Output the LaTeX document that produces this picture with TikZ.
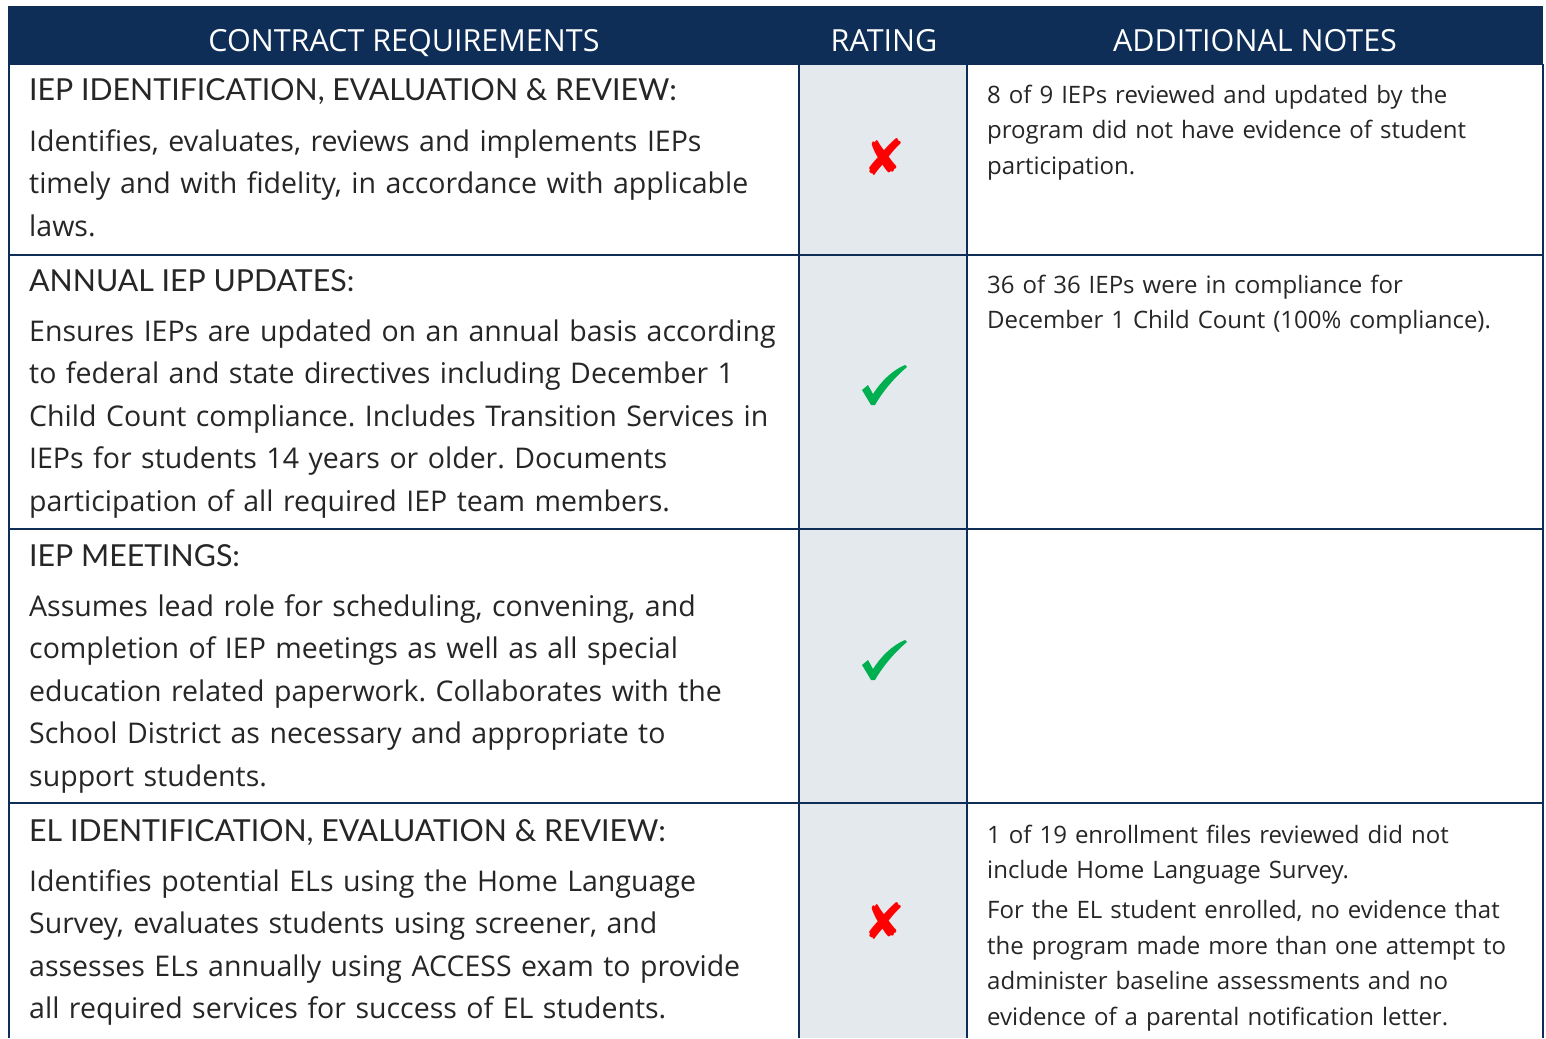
\documentclass[tikz,border=0pt]{standalone}
\usepackage{fontspec}
\setmainfont{Open Sans}
\newfontfamily\headfont{Lato}
\newfontfamily\symfont{DejaVu Sans}
\definecolor{navy}{HTML}{0E2E58}
\definecolor{ratebg}{HTML}{E4E9EE}
\definecolor{txt}{HTML}{262626}
\definecolor{okgreen}{HTML}{00B050}
\definecolor{badred}{HTML}{FF0000}
\frenchspacing
\begin{document}
\begin{tikzpicture}[x=1pt,y=-1pt,
  hdr/.style={text=white,font=\fontsize{30.5}{34}\selectfont,inner sep=0pt,anchor=base},
  rowhead/.style={text=txt,font=\headfont\fontsize{30.3}{34}\selectfont,inner sep=0pt,anchor=base west},
  body/.style={text=txt,font=\frenchspacing\fontsize{28.5}{42.6}\selectfont,inner sep=0pt,anchor=base west,text width=765pt,align=left},
  note/.style={text=txt,font=\frenchspacing\fontsize{24}{35.7}\selectfont,inner sep=0pt,anchor=base west,text width=550pt,align=left},
  gridline/.style={draw=navy,line width=2pt},
  xmark/.style={text=badred,font=\symfont\fontsize{50}{50}\selectfont,inner sep=0pt},
]
\useasboundingbox (0,0) rectangle (1546,1038);
\fill[white] (0,0) rectangle (1546,1038);
% header
\fill[navy] (8,6) rectangle (1543,65);
\fill[ratebg] (799,65) rectangle (967,1038);
% grid
\draw[gridline] (9,64) -- (9,1038);
\draw[gridline] (1543,64) -- (1543,1038);
\draw[gridline] (799,64) -- (799,1038);
\draw[gridline] (967,64) -- (967,1038);
\draw[gridline] (8,255) -- (1544,255);
\draw[gridline] (8,529) -- (1544,529);
\draw[gridline] (8,803) -- (1544,803);

\node[hdr] (h1) at (404,52) {CONTRACT REQUIREMENTS};
\node[hdr] (h2) at (884,52) {RATING};
\node[hdr] (h3) at (1255,52) {ADDITIONAL NOTES};

% row 1
\node[rowhead] (r1h) at (29,101) {IEP IDENTIFICATION, EVALUATION \& REVIEW:};
\node[body] (r1b) at (29,151) {Identifies, evaluates, reviews and implements IEPs\\ timely and with fidelity, in accordance with applicable\\ laws.};
\node[xmark] (r1m) at (884,157) {✘};
\node[note] (r1n) at (987,103) {8 of 9 IEPs reviewed and updated by the\\ program did not have evidence of student\\ participation.};

% row 2
\node[rowhead] (r2h) at (29,291) {ANNUAL IEP UPDATES:};
\node[body] (r2b) at (29,341) {Ensures IEPs are updated on an annual basis according\\ to federal and state directives including December 1\\ Child Count compliance. Includes Transition Services in\\ IEPs for students 14 years or older. Documents\\ participation of all required IEP team members.};
\fill[okgreen] (862,390) -- (868,385) -- (873,394) .. controls (882,380) and (893,370) .. (905,365) -- (907,367) .. controls (895,377) and (883,391) .. (875,405) -- (871,405) -- cycle;
\node[note] (r2n) at (987,293) {36 of 36 IEPs were in compliance for\\ December 1 Child Count (100\% compliance).};

% row 3
\node[rowhead] (r3h) at (29,566) {IEP MEETINGS:};
\node[body] (r3b) at (29,616) {Assumes lead role for scheduling, convening, and\\ completion of IEP meetings as well as all special\\ education related paperwork. Collaborates with the\\ School District as necessary and appropriate to\\ support students.};
\fill[okgreen] (862,665) -- (868,660) -- (873,669) .. controls (882,655) and (893,645) .. (905,640) -- (907,642) .. controls (895,652) and (883,666) .. (875,680) -- (871,680) -- cycle;

% row 4
\node[rowhead] (r4h) at (29,841) {EL IDENTIFICATION, EVALUATION \& REVIEW:};
\node[body] (r4b) at (29,891) {Identifies potential ELs using the Home Language\\ Survey, evaluates students using screener, and\\ assesses ELs annually using ACCESS exam to provide\\ all required services for success of EL students.};
\node[xmark] (r4m) at (884,921) {✘};
\node[note] (r4n) at (987,843) {1 of 19 enrollment files reviewed did not\\ include Home Language Survey.\\[4pt] For the EL student enrolled, no evidence that\\ the program made more than one attempt to\\ administer baseline assessments and no\\ evidence of a parental notification letter.};
\end{tikzpicture}
\end{document}
